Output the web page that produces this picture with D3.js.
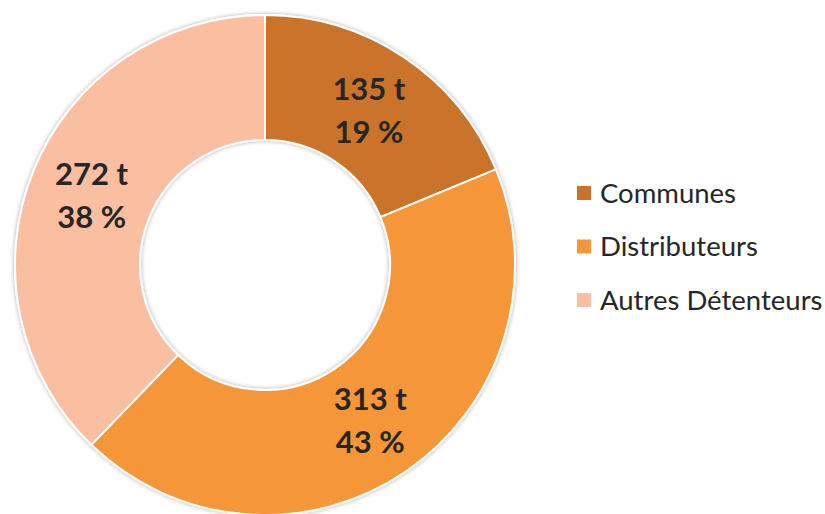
<!DOCTYPE html>
<html><head><meta charset="utf-8">
<script src="https://cdn.jsdelivr.net/npm/d3@7"></script>
<style>html,body{margin:0;padding:0;background:#fff;}svg{display:block;}</style>
</head><body>
<script>
const categories = ["Communes", "Distributeurs", "Autres Détenteurs"];
const tonnes = [135, 313, 272];
const percentLabels = ["19 %", "43 %", "38 %"];
const colors = ["#CA7329", "#F59638", "#FABFA1"];

const W = 825, H = 514;
const cx = 265, cy = 265, rOuter = 250, rInner = 125;

const svg = d3.select("body").append("svg").attr("width", W).attr("height", H);
const defs = svg.append("defs");
const f = defs.append("filter").attr("id", "sh").attr("x", "-10%").attr("y", "-10%").attr("width", "120%").attr("height", "120%");
f.append("feDropShadow").attr("dx", 0).attr("dy", 0).attr("stdDeviation", 2).attr("flood-color", "#000").attr("flood-opacity", 0.35);

const data = categories.map((c, i) => ({cat: c, t: tonnes[i], pct: percentLabels[i], color: colors[i]}));
const pie = d3.pie().value(d => d.t).sort(null);
const arcs = pie(data);
const arc = d3.arc().innerRadius(rInner).outerRadius(rOuter);
const labelArc = d3.arc().innerRadius(187).outerRadius(187);

const g = svg.append("g").attr("transform", `translate(${cx},${cy})`);
g.append("g").attr("filter", "url(#sh)")
  .selectAll("path").data(arcs).enter().append("path")
  .attr("d", arc).attr("fill", d => d.data.color)
  .attr("stroke", "#fff").attr("stroke-width", 2);

const lab = g.selectAll("text.lab").data(arcs).enter().append("text")
  .attr("class", "lab")
  .attr("transform", d => `translate(${labelArc.centroid(d)})`)
  .attr("text-anchor", "middle")
  .attr("font-family", "Lato, 'Open Sans', sans-serif")
  .attr("font-weight", "bold").attr("font-size", 31).attr("fill", "#262626");
lab.append("tspan").attr("x", 0).attr("y", -10).text(d => d.data.t + " t");
lab.append("tspan").attr("x", 0).attr("y", 33).text(d => d.data.pct);

const leg = svg.append("g").attr("transform", "translate(577,0)");
const ly = d3.scalePoint().domain(categories).range([193, 300]);
const items = leg.selectAll("g").data(data).enter().append("g")
  .attr("transform", d => `translate(0,${ly(d.cat)})`);
items.append("rect").attr("x", 0).attr("y", -7).attr("width", 14).attr("height", 14).attr("fill", d => d.color);
items.append("text").attr("x", 23).attr("y", 0).attr("dy", "0.35em")
  .attr("font-family", "Lato, 'Open Sans', sans-serif").attr("font-size", 27.5).attr("fill", "#262626")
  .text(d => d.cat);
</script>
</body></html>
